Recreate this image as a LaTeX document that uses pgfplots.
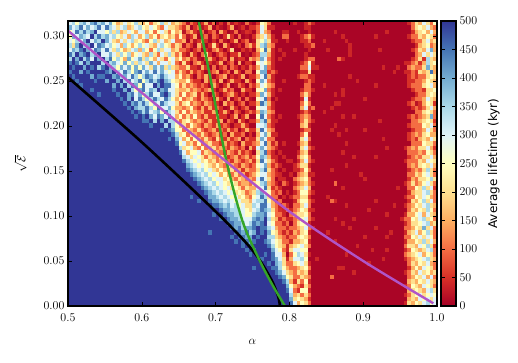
\documentclass[border=0pt]{standalone}
\usepackage{pgfplots}
\usepackage{pgfplotstable}
\usepackage{fontspec}
\newfontfamily\barfont{DejaVu Sans}
\pgfplotsset{compat=1.18}
\definecolor{mypurple}{RGB}{176,84,200}
\definecolor{mygreen}{RGB}{52,165,40}
\pgfdeclareplotmark{cell}{\pgfpathrectangle{\pgfpoint{-1.9pt}{-2.3pt}}{\pgfpoint{3.8pt}{4.6pt}}\pgfusepathqfill}
% average lifetime per cell, top row first, 100 columns
\pgfplotstableread[header=false]{
300 350 250 350 400 300 400 450 350 400  300 400 250 150 200 300 200 250 350 200  150 250 100 200 250 350 200 300 150 200  150 100 20 100 50 5 50 150 20 100  5 50 5 100 20 50 20 5 100 20  5 50 250 200 100 5 5 5 5 5  5 40 5 5 40 100 40 5 5 5  5 5 5 5 5 5 5 5 5 5  5 5 5 5 5 5 5 5 5 5  5 5 40 100 200 150 300 200 100 250
400 300 350 450 300 400 300 350 450 300  450 350 300 200 300 350 150 200 300 350  250 200 300 250 150 100 300 200 200 150  100 50 150 5 50 100 20 50 150 5  50 20 5 50 150 5 20 50 5 50  50 100 300 200 40 40 5 5 5 5  5 5 5 5 40 40 5 5 5 5  5 5 5 5 5 5 5 5 5 5  5 5 5 5 5 5 5 5 5 5  5 5 5 100 200 250 200 300 150 100
250 300 450 350 450 350 400 500 300 300  250 350 200 350 150 200 300 250 150 300  300 150 250 100 250 300 200 100 250 150  200 20 100 150 50 20 100 5 50 100  5 150 50 5 20 100 5 20 50 40  5 100 300 150 100 5 5 5 40 40  5 5 40 5 5 40 5 5 5 5  5 5 40 5 5 5 5 5 5 5  5 5 5 5 5 5 40 5 5 5  5 5 5 50 150 200 250 150 300 150
250 400 300 400 350 300 500 350 450 350  400 300 350 250 200 300 150 350 300 150  250 350 150 250 100 200 250 150 200 100  250 100 20 50 150 5 50 100 5 100  50 5 50 200 50 5 100 5 20 5  50 150 200 300 150 40 5 5 100 100  5 5 5 40 100 150 40 5 5 5  5 5 5 5 40 5 5 5 5 5  5 5 5 40 5 5 5 5 5 5  5 5 40 100 100 200 150 250 200 100
300 250 350 300 400 500 300 400 350 500  400 300 200 150 300 200 300 350 200 250  150 100 250 350 200 300 150 200 300 100  100 150 5 100 20 50 150 50 5 50  5 100 20 5 50 150 5 50 100 5  20 200 250 350 200 40 40 5 5 40  5 5 5 40 40 100 5 5 5 40  5 5 5 5 5 40 5 5 5 5  5 5 5 5 5 5 5 5 5 5  5 5 5 50 100 100 200 300 150 200
350 200 400 500 350 400 500 300 450 400  300 350 250 300 150 350 250 150 250 350  250 300 200 150 300 350 250 200 100 200  150 20 100 50 5 150 50 5 50 200  50 5 150 50 5 20 50 5 100 150  50 200 350 400 150 100 5 5 5 5  5 5 5 5 40 40 100 5 5 5  5 5 5 5 5 5 40 5 5 5  5 5 5 5 5 5 5 5 5 5  5 5 5 5 50 150 200 250 100 150
300 400 350 450 500 400 300 450 400 300  450 300 200 350 250 150 200 300 350 150  350 250 100 250 350 200 300 300 150 200  100 100 50 5 50 100 5 50 20 100  150 50 5 50 200 5 5 50 20 50  5 150 250 450 200 40 5 40 5 5  5 40 5 5 5 40 5 5 5 5  40 5 5 5 5 5 40 5 5 5  5 5 5 5 40 5 5 5 5 5  5 5 5 50 100 200 150 300 400 150
450 350 500 400 450 500 350 400 500 300  300 400 300 200 350 250 350 150 250 300  200 150 350 200 100 300 200 350 200 100  200 50 20 150 50 5 100 200 50 5  50 100 50 5 50 50 150 5 20 5  50 100 350 350 150 40 5 5 40 5  5 5 5 5 40 5 5 5 5 5  5 5 5 5 5 5 40 5 5 5  5 5 5 5 5 5 5 5 5 5  5 5 5 5 100 150 300 200 300 200
350 500 400 500 350 450 300 500 400 500  350 450 250 350 250 150 400 250 300 400  200 350 250 150 300 200 100 250 300 150  250 100 150 50 100 20 5 50 150 50  5 50 100 5 150 20 50 50 5 150  100 150 400 300 100 40 5 40 5 5  5 5 5 5 40 100 100 5 5 5  5 5 5 100 40 5 5 5 5 5  5 5 5 5 5 5 5 5 5 5  5 5 5 50 100 200 50 350 200 150
450 500 450 350 500 400 500 500 500 350  500 350 400 300 250 400 250 350 200 350  300 200 400 300 150 300 300 200 300 100  50 200 50 5 100 150 50 5 50 20  50 150 5 50 100 5 150 5 50 50  5 250 300 250 150 40 5 5 5 5  5 5 5 40 100 250 40 5 5 5  5 5 5 5 5 5 5 5 5 5  5 5 5 5 5 5 5 5 5 5  5 40 40 100 150 50 150 350 200 250
500 450 500 500 400 500 450 500 350 450  500 400 350 250 400 300 400 250 400 250  400 300 200 400 300 400 200 350 200 150  100 100 200 50 50 20 150 50 5 100  5 50 100 5 100 50 5 50 20 100  50 150 300 400 100 40 5 5 5 5  5 5 5 100 100 300 40 40 5 5  5 5 5 5 5 5 5 5 5 5  5 5 5 5 5 40 5 5 5 40  5 5 100 150 100 100 200 400 200 150
450 500 500 400 500 450 500 500 500 500  450 400 500 350 300 450 350 250 400 450  300 400 300 450 300 400 300 250 300 100  200 100 50 150 50 100 50 5 50 100  150 5 50 100 5 150 50 5 100 100  5 250 400 400 50 100 40 5 5 5  5 5 5 40 40 200 5 5 5 5  5 5 5 5 5 5 5 5 5 5  5 5 5 5 5 5 5 5 40 5  5 40 40 100 50 200 150 200 450 150
500 450 500 500 500 500 400 500 450 450  500 500 400 450 350 400 300 450 350 250  350 450 400 300 350 450 350 300 300 150  250 100 150 50 5 100 50 150 50 5  50 100 150 5 50 20 50 150 5 50  50 150 300 450 150 40 5 5 5 5  5 5 40 100 100 40 40 5 5 5  5 5 5 5 5 5 40 5 5 5  5 5 5 5 5 5 5 5 5 5  5 5 50 100 50 100 100 200 250 200
500 500 450 500 500 500 500 450 500 500  400 500 500 400 500 350 450 300 350 450  250 350 450 350 450 500 400 350 250 200  150 150 250 100 50 50 5 150 50 100  20 150 5 50 150 50 50 5 150 50  5 250 400 300 100 40 5 5 40 5  5 5 5 5 40 100 40 5 5 5  5 5 5 5 5 5 5 5 40 5  5 5 5 5 5 5 5 5 5 5  5 5 50 50 100 100 150 250 200 150
500 500 500 450 500 500 500 500 500 500  500 500 400 500 400 500 350 450 400 250  450 300 300 500 400 500 450 450 300 250  100 200 100 150 100 50 100 50 5 150  50 5 50 150 5 20 100 50 5 100  50 150 300 250 150 100 5 5 5 5  5 5 5 5 100 100 5 5 5 40  5 5 5 5 5 5 5 5 5 5  5 5 5 40 5 5 5 5 5 5  5 5 50 100 100 100 200 250 300 150
500 500 500 500 500 500 450 500 500 500  500 500 450 500 500 400 500 350 250 400  450 300 400 350 500 400 450 300 300 200  150 150 200 100 150 100 50 100 150 50  5 50 150 50 100 5 5 150 50 50  5 250 250 400 100 40 5 40 5 5  5 5 5 40 100 100 40 5 5 5  5 5 5 5 40 5 5 5 5 5  5 5 5 5 5 5 5 5 5 5  5 5 5 50 100 100 50 200 200 250
500 500 500 500 500 500 500 500 450 500  500 500 500 450 500 500 400 450 300 400  250 350 450 300 300 450 500 400 300 200  100 250 100 150 200 50 150 50 5 100  50 5 50 100 150 50 5 50 5 50  50 150 400 300 150 40 5 5 5 5  5 5 5 100 200 100 5 5 5 5  5 5 40 5 40 5 5 5 5 5  5 5 5 5 5 5 5 5 5 5  5 5 5 5 50 100 100 200 250 200
500 500 500 500 500 500 500 500 500 500  500 500 500 500 450 500 400 500 300 450  350 250 350 450 350 300 450 350 250 150  250 100 150 200 100 50 150 100 50 5  150 50 5 150 5 50 100 5 100 20  5 250 300 450 100 5 40 5 5 5  5 5 5 40 300 40 5 5 5 5  5 5 5 5 5 5 5 5 5 5  40 5 5 5 5 5 5 5 5 5  5 5 5 50 100 100 150 300 200 150
500 500 500 500 500 500 500 500 500 500  500 500 500 500 500 450 500 400 450 350  450 350 250 350 300 450 350 300 300 200  100 200 250 100 150 100 50 150 100 50  50 5 150 50 100 5 50 100 5 50  50 150 450 350 150 40 5 5 5 5  5 5 5 100 250 100 5 5 5 5  5 5 40 40 5 5 5 5 5 5  5 5 5 5 5 5 5 5 5 5  5 5 50 100 20 50 150 250 200 50
500 500 500 500 500 500 500 500 500 500  500 500 500 500 500 500 450 500 400 350  350 450 350 250 450 300 300 400 250 150  150 100 150 250 100 50 150 50 150 50  100 50 5 20 150 50 5 50 100 5  5 250 300 300 100 40 5 5 5 5  5 5 5 150 300 40 100 5 5 5  5 40 5 5 5 5 5 5 5 5  5 5 5 5 5 5 5 5 5 5  5 5 5 50 100 50 100 200 300 150
500 500 500 500 500 500 500 500 500 500  500 500 500 500 500 500 500 450 500 450  350 450 300 350 400 250 450 350 300 200  100 250 100 200 150 100 150 50 50 150  5 50 150 50 5 100 50 5 50 100  50 150 400 350 150 100 5 5 5 5  5 5 5 40 100 40 5 5 5 40  5 5 5 5 5 5 5 5 5 5  5 5 5 5 5 5 5 5 5 5  5 5 5 5 100 100 200 250 200 100
500 500 500 500 500 500 500 500 500 500  500 500 500 500 500 500 500 500 450 500  450 500 400 300 450 400 300 450 300 150  250 100 200 100 250 100 50 150 50 50  150 50 50 5 50 150 5 50 150 5  5 250 450 300 100 40 5 40 5 5  5 5 40 100 150 100 5 5 5 5  5 5 5 5 40 5 5 40 5 5  5 5 5 5 5 5 5 5 5 5  5 5 50 100 50 100 150 200 400 100
500 500 500 500 500 500 500 500 500 500  500 500 500 500 500 500 500 500 500 500  450 450 500 350 500 400 500 350 350 200  100 200 250 150 100 150 100 50 150 50  50 150 5 100 50 5 150 50 5 50  50 150 350 450 150 40 40 5 5 5  5 5 5 100 200 100 40 5 5 5  5 5 5 5 5 5 5 5 5 5  5 5 5 5 40 5 5 5 5 5  5 5 5 100 100 150 200 250 200 50
500 500 500 500 500 500 500 500 500 500  500 500 500 500 500 500 500 500 500 500  500 500 450 500 500 500 350 500 350 250  150 200 100 250 150 100 50 150 100 50  150 50 100 50 5 50 50 150 50 5  5 300 300 350 100 40 5 5 5 5  5 5 5 150 200 40 5 5 5 5  5 5 40 5 5 5 5 5 5 5  5 5 5 5 5 5 5 5 5 5  5 5 50 100 100 100 250 200 300 100
500 500 500 500 500 500 500 500 500 500  500 500 500 500 500 500 500 500 500 500  500 500 500 500 500 450 500 450 400 250  250 100 200 150 100 200 100 50 100 150  50 100 50 150 50 100 5 50 150 50  50 200 450 300 150 100 5 5 5 5  5 5 5 40 100 100 5 5 5 5  5 40 5 5 5 40 5 5 5 5  40 5 5 5 5 5 5 5 5 5  5 5 5 50 100 100 150 300 200 100
500 500 500 500 500 500 500 500 500 500  500 500 500 500 500 500 500 500 500 500  500 500 500 500 500 500 500 500 450 350  200 250 100 200 150 100 200 100 50 100  150 50 100 5 150 50 50 100 5 50  5 150 300 400 200 40 40 5 5 5  5 5 5 100 250 40 5 5 5 5  5 5 5 40 5 5 5 5 5 5  5 5 5 5 5 5 5 5 5 5  5 5 50 100 150 100 200 250 150 150
500 500 500 500 500 500 500 500 500 500  500 500 500 500 500 500 500 500 500 500  500 500 500 500 500 500 500 450 500 400  300 150 250 100 250 150 100 200 100 50  200 100 50 150 50 100 150 5 100 50  50 200 400 300 100 100 5 5 5 5  5 5 5 200 300 100 5 5 5 5  5 5 5 5 5 5 5 5 5 5  5 5 5 5 5 40 5 5 5 5  5 5 50 100 50 150 200 150 300 200
500 500 500 500 500 500 500 500 500 500  500 500 500 500 500 500 500 500 500 500  500 500 500 500 500 500 500 500 500 450  250 300 150 200 100 250 100 150 200 100  100 50 150 50 100 50 5 150 50 50  100 150 300 450 150 40 100 5 40 5  5 5 40 150 200 40 5 5 5 5  5 5 5 5 5 40 5 5 5 5  5 5 5 5 5 5 5 5 5 5  5 5 5 100 100 100 250 200 200 100
500 500 500 500 500 500 500 500 500 500  500 500 500 500 500 500 500 500 500 500  500 500 500 500 500 500 500 500 500 500  350 200 250 300 150 100 250 100 150 200  100 150 100 50 150 100 50 100 5 150  50 300 400 300 150 100 40 5 5 5  5 5 5 200 300 100 40 5 5 5  5 5 5 5 5 5 5 5 5 5  5 5 5 5 5 5 40 5 5 5  5 40 100 150 100 200 200 300 150 50
500 500 500 500 500 500 500 500 500 500  500 500 500 500 500 500 500 500 500 500  500 500 500 500 500 500 500 500 500 500  450 300 150 250 250 300 100 200 150 100  150 100 50 150 100 50 150 50 100 50  5 200 350 450 100 40 5 40 5 5  5 5 40 150 200 40 5 5 5 5  5 5 5 5 40 5 5 5 5 5  5 5 5 5 5 5 5 5 5 5  5 5 100 100 100 150 100 250 200 100
500 500 500 500 500 500 500 500 500 500  500 500 500 500 500 500 500 500 500 500  500 500 500 500 500 500 500 500 500 500  500 350 300 200 300 250 200 100 200 150  100 200 150 50 100 150 50 100 150 50  100 250 400 350 150 40 40 5 40 5  5 5 100 200 250 100 5 5 5 5  5 5 5 5 5 5 5 40 5 5  5 5 5 40 5 5 5 5 5 5  5 5 50 100 150 100 200 200 300 150
500 500 500 500 500 500 500 500 500 500  500 500 500 500 500 500 500 500 500 500  500 500 500 500 500 500 500 500 500 500  500 450 350 300 250 300 200 250 150 200  100 150 200 100 50 150 100 50 100 150  50 200 450 300 200 100 40 5 5 40  40 5 40 150 300 100 40 5 5 5  5 5 5 5 5 5 5 5 5 5  5 5 5 5 5 5 5 5 5 5  5 40 100 100 100 200 150 300 250 200
500 500 500 500 500 500 500 500 500 500  500 500 500 500 500 500 500 500 500 500  500 500 500 500 500 500 500 500 500 500  500 500 400 350 300 250 300 250 200 150  250 150 100 200 150 100 50 150 100 50  100 250 300 400 150 50 100 40 5 5  5 40 100 200 200 40 5 5 5 5  5 5 5 5 5 40 5 5 5 5  5 5 5 5 5 5 5 5 5 5  5 5 100 150 100 200 250 200 300 150
500 500 500 500 500 500 500 500 500 500  500 500 500 500 500 500 500 500 500 500  500 500 500 500 500 500 500 500 500 500  500 500 450 400 350 300 350 250 300 200  150 250 150 100 200 100 150 50 150 100  100 200 350 450 200 100 40 5 40 5  5 40 40 100 250 100 5 5 5 5  5 40 5 5 5 5 5 5 5 5  5 5 5 5 5 5 5 5 5 5  5 5 40 100 150 100 200 350 200 100
500 500 500 500 500 500 500 500 500 500  500 500 500 500 500 500 500 500 500 500  500 500 500 500 500 500 500 500 500 500  500 500 500 450 400 350 300 350 250 300  250 150 250 150 100 200 100 150 50 100  150 250 300 300 150 100 50 40 5 5  40 5 100 150 200 40 40 5 5 5  5 5 5 5 5 5 5 5 5 40  5 5 5 5 5 5 5 5 5 5  5 5 100 100 200 150 250 300 200 100
500 500 500 500 500 500 500 500 500 500  500 500 500 500 500 500 500 500 500 500  500 500 500 500 500 500 500 500 500 500  500 500 500 500 450 400 350 300 350 250  300 300 200 250 150 100 200 150 100 150  100 300 450 300 200 100 5 40 40 5  5 100 150 200 250 100 5 5 5 5  5 5 5 5 5 5 5 5 5 5  40 5 5 5 5 5 5 5 5 5  5 5 50 150 100 200 200 250 350 200
500 500 500 500 500 500 500 500 500 500  500 500 500 500 500 500 500 500 500 500  500 500 500 500 500 500 500 500 500 500  500 500 500 500 500 450 400 350 300 350  250 300 250 200 250 200 100 150 150 100  200 250 350 400 150 100 40 5 100 40  5 40 100 150 200 100 40 5 5 5  5 5 100 5 5 5 5 5 5 5  5 5 5 5 5 5 5 5 5 5  5 40 100 200 100 150 250 300 200 100
500 500 500 500 500 500 500 500 500 500  500 500 500 500 500 500 500 500 500 500  500 500 500 500 500 500 500 500 500 500  500 500 500 500 500 500 450 400 350 300  350 300 250 300 200 250 200 100 200 150  150 300 300 450 200 50 100 40 5 5  5 100 150 200 300 150 5 5 5 5  5 5 5 5 40 5 5 5 5 5  5 5 5 5 5 5 5 5 5 40  5 5 100 100 250 200 350 200 300 50
500 500 500 500 500 500 500 500 500 500  500 500 500 500 500 500 500 500 500 500  500 500 500 500 500 500 500 500 500 500  500 500 500 500 500 500 500 450 400 350  300 350 300 250 300 200 250 200 100 150  200 350 400 300 250 100 50 100 5 40  5 40 100 250 250 100 40 5 5 5  5 5 5 5 5 5 5 5 5 5  5 5 5 5 5 5 5 5 5 5  5 5 50 150 200 200 300 350 200 100
500 500 500 500 500 500 500 500 500 500  500 500 500 500 500 500 500 500 500 500  500 500 500 500 500 500 500 500 500 500  500 500 500 450 500 500 500 500 400 400  350 300 350 300 250 300 200 250 150 100  250 300 450 350 200 100 100 5 40 5  40 100 100 200 200 50 5 5 5 5  40 5 5 5 5 5 5 5 5 5  5 5 5 5 5 5 5 5 5 5  5 40 100 100 250 200 300 250 150 100
500 500 500 500 500 500 500 500 500 500  500 500 500 500 500 500 500 500 500 500  500 500 500 500 500 500 500 500 500 500  500 500 500 500 500 450 500 500 450 400  400 350 300 350 300 250 300 200 200 150  300 350 350 450 250 150 50 100 5 5  5 40 150 250 250 100 40 5 5 5  5 100 40 5 5 5 5 5 5 5  5 5 5 40 5 5 5 5 5 5  5 5 50 200 150 250 350 200 300 100
500 500 500 500 500 500 500 500 500 500  500 500 500 500 500 500 500 500 500 500  500 500 500 500 500 500 500 500 500 500  500 500 500 500 500 500 500 500 500 450  450 400 350 400 300 350 250 300 200 200  350 300 450 450 300 150 100 40 100 40  5 100 100 200 300 100 5 5 5 5  5 5 5 5 5 40 5 5 5 5  5 5 5 5 5 5 5 5 40 5  5 40 100 150 250 200 300 350 200 150
500 500 500 500 500 500 500 500 500 500  500 500 500 500 500 500 500 500 500 500  500 500 500 500 500 500 500 500 500 500  500 500 500 500 500 500 500 500 500 500  500 450 400 400 350 350 300 300 250 200  300 350 450 400 350 200 100 50 40 100  40 100 150 250 200 50 40 5 5 5  5 5 5 5 5 5 5 5 5 5  5 40 5 5 5 5 5 5 5 5  5 5 100 200 150 250 200 350 250 100
500 500 500 500 500 500 500 500 500 500  500 500 500 500 500 500 500 500 500 500  500 500 500 500 500 500 500 500 500 500  500 500 500 500 500 500 500 500 500 450  500 500 450 400 400 350 350 300 250 250  350 400 400 450 300 250 100 100 40 5  100 150 200 200 250 100 5 5 5 5  5 5 5 5 5 5 5 5 5 5  5 5 5 5 5 5 40 5 5 5  5 40 150 150 250 300 150 300 200 150
500 500 500 500 500 500 500 500 500 500  500 500 500 500 500 500 500 500 500 500  500 500 500 500 500 500 500 500 500 500  500 500 500 500 500 500 500 500 500 500  500 450 500 450 400 400 350 300 300 300  400 450 400 500 350 200 150 40 100 40  40 100 150 250 300 100 40 5 5 5  5 5 40 5 5 5 5 40 5 5  5 5 5 5 5 5 5 5 5 5  40 100 100 250 200 300 350 200 250 100
500 500 500 500 500 500 500 500 500 500  500 500 500 500 500 500 500 500 500 500  500 500 500 500 500 500 500 500 500 500  500 500 500 500 500 500 500 500 500 500  500 500 500 450 450 400 400 350 300 350  450 400 450 500 300 250 100 100 40 100  5 100 200 250 250 40 5 5 5 5  5 5 5 5 40 5 5 5 5 5  5 5 5 5 5 5 5 5 5 5  5 40 100 200 200 250 300 350 150 200
500 500 500 500 500 500 500 500 500 500  500 500 500 500 500 500 500 500 500 500  500 500 500 500 500 500 500 500 500 500  500 500 500 500 500 500 500 500 500 500  500 500 500 500 450 400 450 350 400 400  450 500 450 450 350 300 150 100 100 40  100 100 150 200 300 100 40 5 5 5  5 5 5 5 5 5 40 5 5 5  5 5 5 40 5 5 5 5 5 5  5 100 100 150 250 200 400 200 300 100
500 500 500 500 500 500 500 500 500 500  500 500 500 500 500 500 500 500 500 500  500 500 500 500 500 500 500 500 500 500  500 500 500 500 500 500 500 500 450 500  500 500 500 500 500 450 450 400 450 350  400 500 450 500 400 250 200 100 40 100  40 150 100 200 250 40 5 5 5 5  40 5 5 5 5 5 5 5 5 5  5 5 5 5 5 5 5 40 5 5  5 40 150 200 300 150 250 350 200 100
500 500 500 500 500 500 500 500 500 500  500 500 500 500 500 500 500 500 500 500  500 500 500 500 500 500 500 500 500 500  500 500 500 500 500 500 500 500 500 500  500 500 500 500 450 500 450 450 400 400  500 450 500 500 350 350 200 150 100 40  100 100 200 250 200 100 5 5 5 5  5 5 5 5 5 5 5 5 5 5  40 5 5 5 5 5 40 5 5 5  5 100 100 250 200 300 200 300 250 100
500 500 500 500 500 500 500 500 500 500  500 500 500 500 500 500 500 500 500 500  500 500 500 500 500 500 500 500 500 500  500 500 500 500 500 500 500 500 500 500  500 500 500 500 500 450 500 450 450 400  450 500 500 450 400 300 250 200 100 100  40 150 150 200 250 40 5 5 5 5  5 5 40 5 5 5 5 5 5 5  5 5 5 5 5 5 5 5 5 5  5 40 150 150 250 200 350 200 300 150
500 500 500 500 500 500 500 500 500 500  500 500 500 500 500 500 500 500 500 500  500 500 500 500 500 500 500 500 500 500  500 500 500 500 500 500 500 500 500 500  500 500 500 500 500 500 500 450 500 450  500 500 500 500 450 350 250 200 150 40  150 200 250 300 200 100 5 5 5 5  5 5 5 5 5 5 5 5 40 5  5 5 5 5 5 5 5 5 5 5  5 100 200 200 150 300 250 350 200 50
500 500 500 500 500 500 500 500 500 500  500 500 500 500 500 500 500 500 500 500  500 500 500 500 500 500 500 500 500 500  500 500 500 500 500 500 500 500 500 500  500 500 500 500 500 500 500 500 450 500  450 500 500 500 500 400 300 250 100 40  200 300 300 250 250 5 5 5 5 5  5 5 5 5 5 5 5 5 5 5  5 5 40 5 5 5 40 5 5 5  5 40 100 250 200 150 200 300 350 100
500 500 500 500 500 500 500 500 500 500  500 500 500 500 500 500 500 500 500 500  500 500 500 500 500 500 500 500 500 500  500 500 500 500 500 500 500 500 500 500  500 500 500 500 500 500 500 500 500 450  500 500 500 450 500 450 300 300 150 5  100 250 350 300 200 40 5 5 5 5  5 5 5 5 5 40 5 5 5 5  5 5 5 5 5 5 5 5 5 5  5 100 150 200 250 300 150 250 200 100
500 500 500 500 500 500 500 500 500 500  500 500 500 500 500 500 500 500 500 500  500 500 500 500 500 500 500 500 500 500  500 500 500 500 500 500 500 500 500 500  500 500 500 500 500 500 500 500 500 500  500 500 450 500 500 450 400 300 200 40  150 300 300 350 250 5 5 40 5 5  5 5 5 5 5 5 5 5 5 5  5 5 5 5 5 40 5 5 5 5  5 40 100 150 200 250 300 350 200 150
500 500 500 500 500 500 500 500 500 500  500 500 500 500 500 500 500 500 500 500  500 500 500 500 500 500 500 500 500 500  500 500 500 500 500 500 500 500 500 500  500 500 500 500 500 500 500 500 500 500  500 500 500 500 450 500 400 350 200 100  100 200 250 300 200 40 5 5 5 5  5 5 5 5 5 5 5 5 5 5  5 40 5 5 5 5 5 5 5 5  5 5 100 200 150 250 200 300 150 100
500 500 500 500 500 500 500 500 500 500  500 500 500 500 500 500 500 500 500 500  500 500 500 500 500 500 500 500 500 500  500 500 500 500 500 500 500 500 500 500  500 500 500 500 500 500 500 500 500 500  450 500 500 500 500 450 450 350 250 150  100 100 150 200 250 100 5 5 5 5  5 5 5 40 40 5 5 5 5 5  5 5 5 5 5 5 5 5 5 5  5 5 50 150 250 150 300 250 200 100
500 500 500 500 500 500 500 500 500 500  500 500 500 500 500 500 500 500 500 500  500 500 500 500 500 500 500 500 500 500  500 500 500 500 500 500 500 500 500 500  500 500 500 500 500 500 500 500 500 500  500 500 500 500 500 500 450 400 300 200  150 100 200 150 200 40 5 5 5 5  5 5 5 5 5 5 5 40 5 5  5 5 5 5 5 5 5 5 5 5  5 40 100 200 150 300 200 250 150 200
500 500 500 500 500 500 500 500 500 500  500 500 500 500 500 500 500 500 500 500  500 500 500 500 500 500 500 500 500 500  500 500 500 500 500 500 500 500 500 500  500 500 500 500 500 500 500 500 500 500  500 500 500 500 500 500 500 450 400 250  200 100 100 200 150 100 5 5 5 5  5 100 5 5 5 5 5 5 5 5  5 5 5 5 5 5 5 5 5 5  5 5 100 150 250 200 300 150 300 100
500 500 500 500 500 500 500 500 500 500  500 500 500 500 500 500 500 500 500 500  500 500 500 500 500 500 500 500 500 500  500 500 500 500 500 500 500 500 500 500  500 500 500 500 500 500 500 500 500 500  500 500 500 500 500 500 500 500 450 350  150 50 200 100 250 40 5 5 5 5  5 5 5 5 5 5 5 5 5 5  5 5 5 5 5 5 5 5 5 5  5 5 150 200 150 250 200 300 200 150
500 500 500 500 500 500 500 500 500 500  500 500 500 500 500 500 500 500 500 500  500 500 500 500 500 500 500 500 500 500  500 500 500 500 500 500 500 500 500 500  500 500 500 500 500 500 500 500 500 500  500 500 500 500 500 500 500 500 500 400  250 150 100 50 200 100 5 5 5 5  5 5 5 5 5 5 5 5 5 5  5 5 5 5 5 5 5 5 5 5  5 40 100 250 200 150 300 250 200 100
500 500 500 500 500 500 500 500 500 500  500 500 500 500 500 500 500 500 500 500  500 500 500 500 500 500 500 500 500 500  500 500 500 500 500 500 500 500 500 500  500 500 500 500 500 500 500 500 500 500  500 500 500 500 500 500 500 500 500 450  300 100 50 250 250 40 5 5 5 5  5 5 5 5 5 5 5 5 5 5  5 5 5 5 5 5 5 5 5 5  5 5 150 200 250 200 150 300 350 200
500 500 500 500 500 500 500 500 500 500  500 500 500 500 500 500 500 500 500 500  500 500 500 500 500 500 500 500 500 500  500 500 500 500 500 500 500 500 500 500  500 500 500 500 500 500 500 500 500 500  500 500 500 500 500 500 500 500 500 500  350 150 200 100 200 100 5 5 5 5  5 5 5 5 5 5 5 5 5 5  5 5 5 5 5 5 5 5 5 5  5 40 100 200 250 300 200 250 300 250
500 500 500 500 500 500 500 500 500 500  500 500 500 500 500 500 500 500 500 500  500 500 500 500 500 500 500 500 500 500  500 500 500 500 500 500 500 500 500 500  500 500 500 500 500 500 500 500 500 500  500 500 500 500 500 500 500 500 500 500  400 200 250 200 150 50 5 5 5 5  5 5 5 5 5 5 5 5 5 5  5 5 5 5 5 5 5 5 5 5  5 5 150 200 150 300 250 300 200 300
500 500 500 500 500 500 500 500 500 500  500 500 500 500 500 500 500 500 500 500  500 500 500 500 500 500 500 500 500 500  500 500 500 500 500 500 500 500 500 500  500 500 500 500 500 500 500 500 500 500  500 500 500 500 500 500 500 500 500 500  450 300 150 250 200 100 5 5 5 5  5 5 5 5 5 5 5 5 5 5  5 5 5 5 5 5 5 5 5 5  5 40 200 150 250 200 300 350 250 300
}\lifetime
\begin{document}
\begin{tikzpicture}
\useasboundingbox (-68pt,-57pt) rectangle (450pt,306pt);
\begin{axis}[
    at={(0pt,0pt)}, anchor=south west,
    scale only axis, width=369pt, height=285pt,
    clip marker paths=true,
    xmin=0.5, xmax=1.0, ymin=0, ymax=0.3167,
    xtick={0.5,0.6,0.7,0.8,0.9,1.0},
    ytick={0,0.05,0.1,0.15,0.2,0.25,0.3},
    xticklabel style={/pgf/number format/fixed,/pgf/number format/fixed zerofill,/pgf/number format/precision=1,yshift=-4pt},
    yticklabel style={/pgf/number format/fixed,/pgf/number format/fixed zerofill,/pgf/number format/precision=2},
    tick label style={font=\fontsize{12.5}{14}\selectfont},
    label style={font=\fontsize{13}{15}\selectfont},
    xlabel={$\alpha$}, ylabel={$\sqrt{\mathcal{E}}$},
    xlabel style={yshift=-11pt},
    ylabel style={yshift=10pt},
    tick align=inside, major tick length=4pt, tick style={black,line width=0.6pt},
    axis line style={line width=1.5pt},
    axis on top,
    point meta min=0, point meta max=500,
    colormap={RdYlBu}{rgb255=(165,0,38) rgb255=(215,48,39) rgb255=(244,109,67) rgb255=(253,174,97) rgb255=(254,224,144) rgb255=(255,255,191) rgb255=(224,243,248) rgb255=(171,217,233) rgb255=(116,173,209) rgb255=(69,117,180) rgb255=(49,54,149)},
    colorbar,
    colorbar style={
        at={(1.011,0)}, anchor=south west,
        width=15pt, height=285pt,
        ytick={0,50,...,500}, ylabel={\barfont Average lifetime (kyr)},
        ylabel style={font=\fontsize{12}{14}\selectfont, yshift=-4pt},
        tick align=inside, major tick length=4pt,
        yticklabel style={font=\fontsize{12.5}{14}\selectfont},
        axis line style={line width=1.5pt},
    },
]
\pgfplotsinvokeforeach{0,...,99}{
\addplot[only marks, scatter, scatter src=explicit, mark=cell, forget plot]
    table[x expr={0.5+(#1+0.5)*0.005}, y expr={0.3167-(\coordindex+0.5)*0.3167/64}, meta index=#1] \lifetime;
}
\addplot[black, line width=2.6pt, smooth] coordinates {(0.5,0.254)(0.6,0.182)(0.7,0.105)(0.75,0.062)(0.775,0.03)(0.785,0.01)(0.787,0)};
\addplot[mygreen, line width=2.4pt, smooth] coordinates {(0.677,0.3167)(0.692,0.257)(0.715,0.16)(0.737,0.093)(0.76,0.05)(0.778,0.022)(0.794,0)};
\addplot[mypurple, line width=2.4pt, smooth] coordinates {(0.5,0.306)(0.6,0.237)(0.7,0.17)(0.8,0.105)(0.9,0.05)(0.995,0.003)};
\end{axis}
\end{tikzpicture}
\end{document}
